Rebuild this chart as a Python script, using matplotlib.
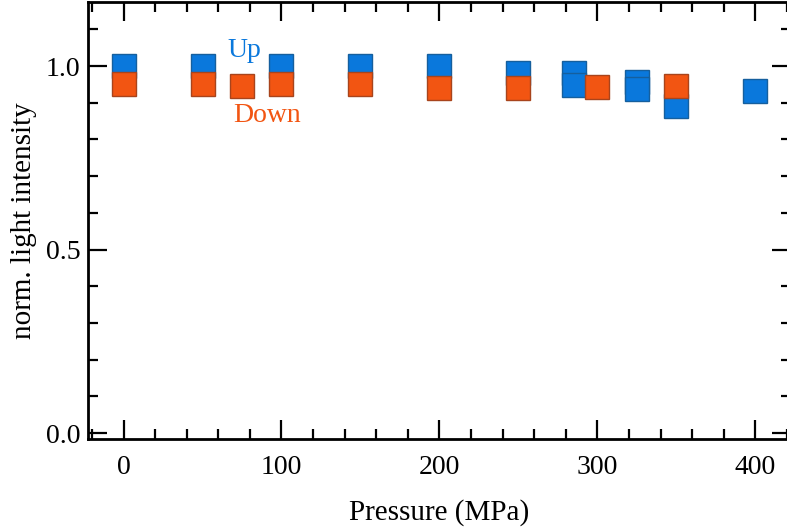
import matplotlib
matplotlib.use("Agg")
import matplotlib.pyplot as plt
from matplotlib.ticker import MultipleLocator, FixedLocator, FormatStrFormatter

plt.rcParams['font.family'] = ['Liberation Serif', 'DejaVu Serif']

up_p = [0, 50, 100, 150, 200, 250, 285, 285, 325, 325, 350, 400]
up_v = [1.00, 1.00, 1.00, 1.00, 1.00, 0.98, 0.982, 0.949, 0.956, 0.937, 0.891, 0.932]
down_p = [0, 50, 75, 100, 150, 200, 250, 300, 350]
down_v = [0.951, 0.951, 0.945, 0.952, 0.951, 0.94, 0.94, 0.944, 0.945]

blue = '#0a78dc'
blue_e = '#155f9e'
orange = '#f25512'
orange_e = '#a8441c'

fig = plt.figure(figsize=(7.87, 5.32), dpi=100)
ax = fig.add_axes([0.1118, 0.1748, 1.005 - 0.1118, 0.996 - 0.1748])

for p, v in zip(up_p, up_v):
    ax.plot([p], [v], marker='s', ms=17, mfc=blue, mec=blue_e, mew=1.0,
            ls='none', zorder=3)
for p, v in zip(down_p, down_v):
    ax.plot([p], [v], marker='s', ms=17, mfc=orange, mec=orange_e, mew=1.0,
            ls='none', zorder=4)

ax.text(76.5, 1.025, 'Up', color=blue, fontsize=20, ha='center', va='baseline')
ax.text(91, 0.848, 'Down', color=orange, fontsize=20, ha='center', va='baseline')

ax.set_xlim(-22.5, 422.5)
ax.set_ylim(-0.016, 1.174)
ax.xaxis.set_major_locator(MultipleLocator(100))
ax.xaxis.set_minor_locator(MultipleLocator(20))
ax.yaxis.set_major_locator(FixedLocator([0.0, 0.5, 1.0]))
ax.yaxis.set_minor_locator(MultipleLocator(0.1))
ax.yaxis.set_major_formatter(FormatStrFormatter('%.1f'))

ax.tick_params(which='both', direction='in', top=True, right=True,
               width=1.6, labelsize=20, colors='black')
ax.tick_params(which='major', length=14)
ax.tick_params(which='minor', length=7.5)
ax.tick_params(axis='x', which='major', pad=11.5)
ax.tick_params(axis='y', which='major', pad=5.5)
for s in ax.spines.values():
    s.set_linewidth(2.0)

ax.set_xlabel('Pressure (MPa)', fontsize=21, labelpad=14)
ax.set_ylabel('norm. light intensity', fontsize=21, labelpad=6)

fig.savefig('out.png', dpi=100)
